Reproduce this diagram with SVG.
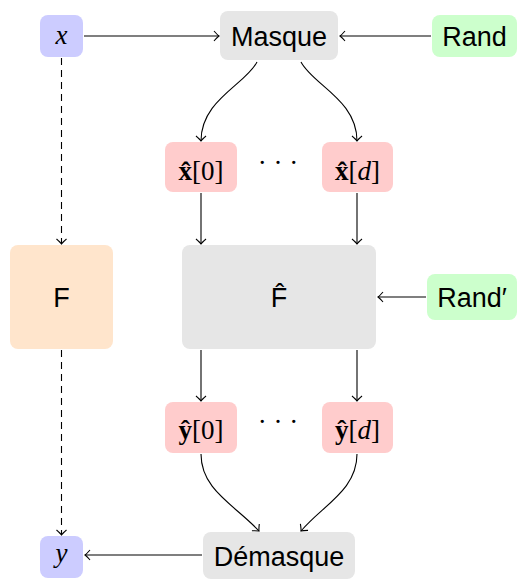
<svg xmlns="http://www.w3.org/2000/svg" width="518" height="579" viewBox="0 0 518 579">
<style>
.sans{font-family:"Liberation Sans","DejaVu Sans",sans-serif;font-size:27px;fill:#000;text-anchor:middle}
.math{font-family:"Liberation Serif","Times New Roman",serif;font-size:27px;fill:#000;text-anchor:middle}
.c{fill:none;stroke:#000;stroke-width:1.1}
.d{fill:none;stroke:#000;stroke-width:1.1;stroke-dasharray:7,5}
</style>
<defs>
<marker id="ah" markerUnits="userSpaceOnUse" markerWidth="14" markerHeight="14" refX="0" refY="0" viewBox="-8 -7 10 14" orient="auto">
<path d="M-5,-5 Q-1.5,-1 0,0 Q-1.5,1 -5,5" fill="none" stroke="#000" stroke-width="1.1"/>
</marker>
</defs>
<g id="connectors">
<path class="c" d="M84,36 H219" marker-end="url(#ah)"/>
<path class="c" d="M431,36 H340" marker-end="url(#ah)"/>
<path class="c" d="M257,62 C245,85 201,100 201,141" marker-end="url(#ah)"/>
<path class="c" d="M301,62 C313,85 357,100 357,141" marker-end="url(#ah)"/>
<path class="c" d="M201,193 V244" marker-end="url(#ah)"/>
<path class="c" d="M357,193 V244" marker-end="url(#ah)"/>
<path class="c" d="M426,297 H378" marker-end="url(#ah)"/>
<path class="c" d="M201,350 V401" marker-end="url(#ah)"/>
<path class="c" d="M357,350 V401" marker-end="url(#ah)"/>
<path class="c" d="M201,454 C201,490 235,505 259,531" marker-end="url(#ah)"/>
<path class="c" d="M357,454 C357,490 323,505 301,531" marker-end="url(#ah)"/>
<path class="c" d="M202,555 H85" marker-end="url(#ah)"/>
<path class="d" d="M61.5,58 V244" marker-end="url(#ah)"/>
<path class="d" d="M61.5,350 V535" marker-end="url(#ah)"/>
</g>
<g id="x"><rect x="40" y="15" width="43" height="42" rx="8" fill="#ccccff"/><text class="math" x="61.5" y="44" font-style="italic" font-size="28">x</text></g>
<g id="masque"><rect x="220" y="11" width="118" height="49" rx="8" fill="#e6e6e6"/><text class="sans" x="279" y="46">Masque</text></g>
<g id="rand"><rect x="432" y="15" width="85" height="42" rx="8" fill="#ccffcc"/><text class="sans" x="474.5" y="46">Rand</text></g>
<g id="x0"><rect x="165" y="142" width="72" height="50" rx="8" fill="#ffcccc"/><text class="math" x="201" y="180"><tspan font-weight="bold">x̂</tspan>[0]</text></g>
<g id="dots1"><text class="math" x="278" y="172">· · ·</text></g>
<g id="xd"><rect x="322" y="142" width="71" height="50" rx="8" fill="#ffcccc"/><text class="math" x="357.5" y="180"><tspan font-weight="bold">x̂</tspan>[<tspan font-style="italic">d</tspan>]</text></g>
<g id="F"><rect x="10" y="245" width="103" height="104" rx="8" fill="#ffe5cc"/><text class="sans" x="61.5" y="307">F</text></g>
<g id="Fhat"><rect x="182" y="245" width="194" height="104" rx="8" fill="#e6e6e6"/><text class="sans" x="279" y="307">F̂</text></g>
<g id="randp"><rect x="427" y="274" width="90" height="46" rx="8" fill="#ccffcc"/><text class="sans" x="472" y="307">Rand′</text></g>
<g id="y0"><rect x="165" y="402" width="72" height="51" rx="8" fill="#ffcccc"/><text class="math" x="201" y="439"><tspan font-weight="bold">ŷ</tspan>[0]</text></g>
<g id="dots2"><text class="math" x="278" y="431">· · ·</text></g>
<g id="yd"><rect x="322" y="402" width="71" height="51" rx="8" fill="#ffcccc"/><text class="math" x="357.5" y="439"><tspan font-weight="bold">ŷ</tspan>[<tspan font-style="italic">d</tspan>]</text></g>
<g id="y"><rect x="40" y="536" width="43" height="42" rx="8" fill="#ccccff"/><text class="math" x="61.5" y="562" font-style="italic" font-size="28">y</text></g>
<g id="demasque"><rect x="203" y="532" width="152" height="47" rx="8" fill="#e6e6e6"/><text class="sans" x="279" y="566">Démasque</text></g>
</svg>
